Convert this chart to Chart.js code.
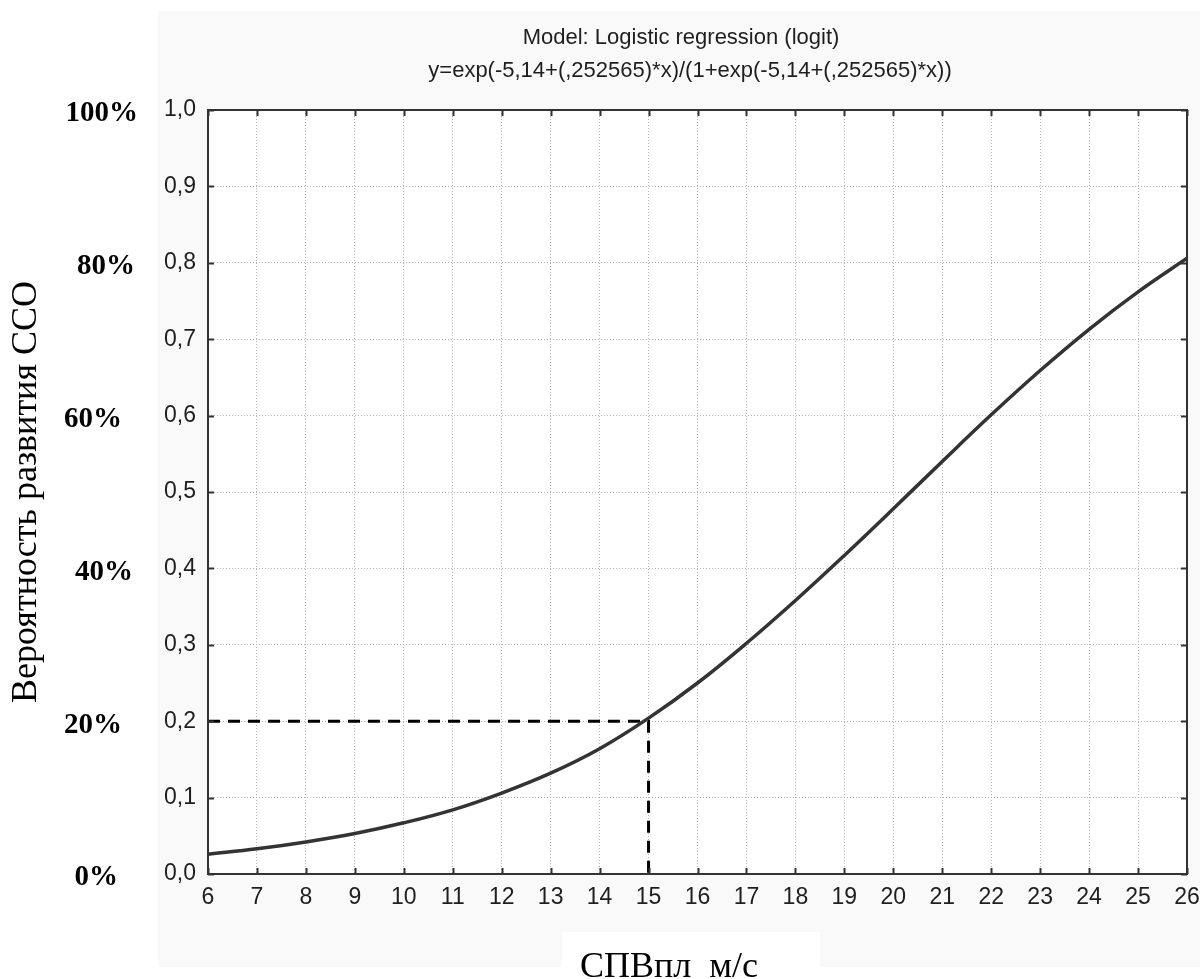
<!DOCTYPE html>
<html>
<head>
<meta charset="utf-8">
<script src="https://cdn.jsdelivr.net/npm/chart.js@4.4.1/dist/chart.umd.min.js"></script>
<style>
html,body{margin:0;padding:0;background:#fff;}
#wrap{position:relative;width:1200px;height:979px;}
</style>
</head>
<body>
<div id="wrap"><canvas id="c" width="1200" height="979"></canvas></div>
<script>
// ---- data ----
const xValues = [6, 7, 8, 9, 10, 11, 12, 13, 14, 15, 16, 17, 18, 19, 20, 21, 22, 23, 24, 25, 26];
const probValues = [0.026, 0.033, 0.042, 0.053, 0.067, 0.084, 0.106, 0.132, 0.164, 0.204, 0.250, 0.302, 0.358, 0.417, 0.478, 0.540, 0.601, 0.659, 0.713, 0.762, 0.806];
const refLineX = [6, 15, 15];
const refLineY = [0.2, 0.2, 0];
const yTickValues = [0, 0.1, 0.2, 0.3, 0.4, 0.5, 0.6, 0.7, 0.8, 0.9, 1.0];
const percentLabels = ['0%', '20%', '40%', '60%', '80%', '100%'];
const percentValues = [0, 0.2, 0.4, 0.6, 0.8, 1.0];
const titleLines = ['Model: Logistic regression (logit)', 'y=exp(-5,14+(,252565)*x)/(1+exp(-5,14+(,252565)*x))'];
const xAxisTitle = 'СПВпл  м/с';
const yAxisTitle = 'Вероятность развития ССО';

const curvePoints = xValues.map((x, i) => ({x: x, y: probValues[i]}));
const refPoints = refLineX.map((x, i) => ({x: x, y: refLineY[i]}));

const decor = {
  id: 'decor',
  beforeDraw(chart) {
    const ctx = chart.ctx, a = chart.chartArea;
    ctx.save();
    ctx.fillStyle = '#ffffff';
    ctx.fillRect(0, 0, 1200, 979);
    ctx.fillStyle = '#f9f9f9';
    ctx.fillRect(158, 11, 1042, 956);
    ctx.fillStyle = '#ffffff';
    ctx.fillRect(562, 932, 258, 47);
    ctx.fillRect(a.left, a.top, a.right - a.left, a.bottom - a.top);
    ctx.restore();
  },
  afterDraw(chart) {
    const ctx = chart.ctx, a = chart.chartArea;
    const xs = chart.scales.x, ys = chart.scales.y;
    ctx.save();
    // frame
    ctx.strokeStyle = '#333333';
    ctx.lineWidth = 2;
    ctx.strokeRect(a.left, a.top, a.right - a.left, a.bottom - a.top);
    // inward ticks
    ctx.beginPath();
    xValues.forEach(v => {
      const px = Math.round(xs.getPixelForValue(v)) + 0.5;
      ctx.moveTo(px, a.bottom); ctx.lineTo(px, a.bottom - 6);
      ctx.moveTo(px, a.top); ctx.lineTo(px, a.top + 6);
    });
    yTickValues.forEach(v => {
      const py = Math.round(ys.getPixelForValue(v)) + 0.5;
      ctx.moveTo(a.left, py); ctx.lineTo(a.left + 6, py);
      ctx.moveTo(a.right, py); ctx.lineTo(a.right - 6, py);
    });
    ctx.stroke();
    // title
    ctx.fillStyle = '#1e1e1e';
    ctx.font = '22px "Liberation Sans", Arial, sans-serif';
    ctx.textAlign = 'center';
    ctx.textBaseline = 'middle';
    ctx.fillText(titleLines[0], 681, 38);
    ctx.fillText(titleLines[1], 690, 71);
    // percent labels
    ctx.fillStyle = '#000000';
    ctx.font = 'bold 29px "Liberation Serif", "Times New Roman", serif';
    ctx.textAlign = 'right';
    const pctRight = [118, 122, 133, 122, 135, 138];
    percentValues.forEach((v, i) => {
      const py = ys.getPixelForValue(v) + 4;
      ctx.fillText(percentLabels[i], pctRight[i], py);
    });
    // axis titles
    ctx.font = '36px "Liberation Serif", "Times New Roman", serif';
    ctx.textAlign = 'left';
    ctx.textBaseline = 'alphabetic';
    ctx.fillText(xAxisTitle, 580, 977);
    ctx.textAlign = 'center';
    ctx.textBaseline = 'middle';
    ctx.translate(27, 492);
    ctx.rotate(-Math.PI / 2);
    ctx.fillText(yAxisTitle, 0, 0);
    ctx.restore();
  }
};

new Chart(document.getElementById('c'), {
  type: 'line',
  data: {
    datasets: [
      {
        data: curvePoints,
        borderColor: '#333333',
        borderWidth: 3.5,
        pointRadius: 0,
        tension: 0.4,
        fill: false
      },
      {
        data: refPoints,
        borderColor: '#000000',
        borderWidth: 3,
        borderDash: [12, 8],
        pointRadius: 0,
        tension: 0,
        fill: false
      }
    ]
  },
  options: {
    responsive: false,
    animation: false,
    devicePixelRatio: 1,
    layout: {autoPadding: false, padding: {top: 110, right: 13, left: 0, bottom: 0}},
    plugins: {legend: {display: false}, tooltip: {enabled: false}, title: {display: false}},
    scales: {
      x: {
        type: 'linear',
        min: 6, max: 26,
        afterFit(s) { s.height = 105; s.paddingRight = 0; s.paddingLeft = 0; },
        afterBuildTicks(s) { s.ticks = xValues.map(v => ({value: v})); },
        border: {display: false, dash: [1, 2]},
        grid: {color: '#b4b4b4', lineWidth: 1, drawTicks: false},
        ticks: {
          padding: 10,
          color: '#1e1e1e',
          font: {family: '"Liberation Sans", Arial, sans-serif', size: 23},
          maxRotation: 0,
          autoSkip: false
        }
      },
      y: {
        type: 'linear',
        min: 0, max: 1,
        afterFit(s) { s.width = 208; s.paddingTop = 0; s.paddingBottom = 0; },
        afterBuildTicks(s) { s.ticks = yTickValues.map(v => ({value: v})); },
        border: {display: false, dash: [1, 2]},
        grid: {color: '#b4b4b4', lineWidth: 1, drawTicks: false},
        ticks: {
          padding: 12,
          color: '#1e1e1e',
          font: {family: '"Liberation Sans", Arial, sans-serif', size: 23},
          callback: v => v.toFixed(1).replace('.', ',')
        }
      }
    }
  },
  plugins: [decor]
});
</script>
</body>
</html>
